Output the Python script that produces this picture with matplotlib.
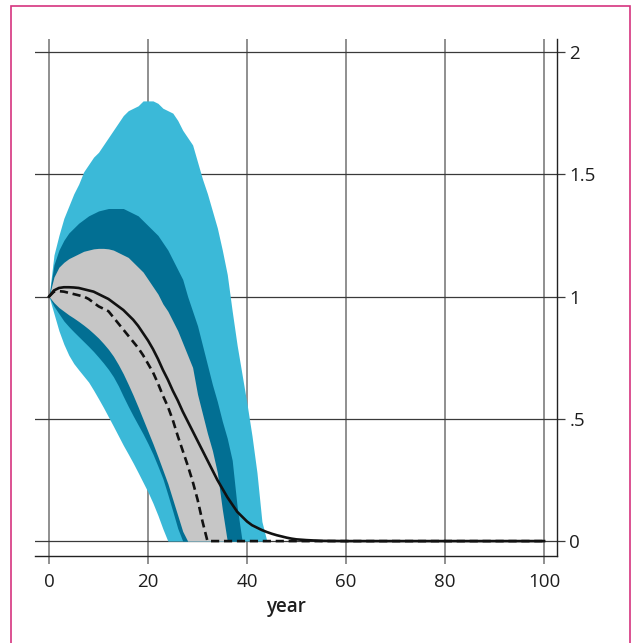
import numpy as np
import matplotlib
matplotlib.use("Agg")
import matplotlib.pyplot as plt
from matplotlib.patches import Rectangle

plt.rcParams['font.family'] = ['Open Sans', 'DejaVu Sans']

# fan chart quantile boundaries, one value per year
years = list(range(0, 46))
outer_hi = [1.00, 1.17, 1.25, 1.32, 1.37, 1.42, 1.46, 1.51, 1.54, 1.57,
            1.59, 1.62, 1.65, 1.68, 1.71, 1.74, 1.76, 1.77, 1.78, 1.80,
            1.80, 1.80, 1.79, 1.77, 1.76, 1.75, 1.72, 1.68, 1.65, 1.62,
            1.55, 1.48, 1.42, 1.35, 1.28, 1.19, 1.09, 0.94, 0.80, 0.68,
            0.56, 0.43, 0.28, 0.08, 0.00, 0.00]
mid_hi = [1.00, 1.13, 1.19, 1.23, 1.26, 1.28, 1.30, 1.315, 1.33, 1.34,
          1.35, 1.355, 1.36, 1.36, 1.36, 1.36, 1.35, 1.34, 1.33, 1.31,
          1.29, 1.27, 1.25, 1.22, 1.19, 1.15, 1.11, 1.07, 1.00, 0.94,
          0.88, 0.80, 0.72, 0.64, 0.57, 0.49, 0.42, 0.33, 0.14, 0.00,
          0.00, 0.00, 0.00, 0.00, 0.00, 0.00]
inner_hi = [1.00, 1.08, 1.12, 1.14, 1.155, 1.165, 1.175, 1.185, 1.19, 1.195,
            1.197, 1.197, 1.195, 1.19, 1.18, 1.17, 1.16, 1.14, 1.12, 1.10,
            1.07, 1.04, 1.01, 0.97, 0.94, 0.90, 0.86, 0.81, 0.76, 0.71,
            0.60, 0.52, 0.44, 0.37, 0.28, 0.13, 0.00, 0.00, 0.00, 0.00,
            0.00, 0.00, 0.00, 0.00, 0.00, 0.00]
inner_lo = [1.00, 0.975, 0.955, 0.94, 0.925, 0.912, 0.898, 0.883, 0.867, 0.849,
            0.83, 0.808, 0.784, 0.756, 0.722, 0.684, 0.641, 0.596, 0.548, 0.498,
            0.448, 0.398, 0.345, 0.29, 0.235, 0.17, 0.105, 0.04, 0.00, 0.00,
            0.00, 0.00, 0.00, 0.00, 0.00, 0.00, 0.00, 0.00, 0.00, 0.00,
            0.00, 0.00, 0.00, 0.00, 0.00, 0.00]
mid_lo = [1.00, 0.96, 0.93, 0.90, 0.877, 0.856, 0.836, 0.816, 0.796, 0.775,
          0.752, 0.728, 0.702, 0.672, 0.635, 0.592, 0.551, 0.512, 0.475, 0.438,
          0.398, 0.355, 0.306, 0.255, 0.19, 0.122, 0.052, 0.00, 0.00, 0.00,
          0.00, 0.00, 0.00, 0.00, 0.00, 0.00, 0.00, 0.00, 0.00, 0.00,
          0.00, 0.00, 0.00, 0.00, 0.00, 0.00]
outer_lo = [1.00, 0.93, 0.86, 0.805, 0.76, 0.726, 0.70, 0.675, 0.65, 0.617,
            0.582, 0.546, 0.508, 0.47, 0.431, 0.392, 0.356, 0.319, 0.28, 0.24,
            0.20, 0.155, 0.105, 0.05, 0.00, 0.00, 0.00, 0.00, 0.00, 0.00,
            0.00, 0.00, 0.00, 0.00, 0.00, 0.00, 0.00, 0.00, 0.00, 0.00,
            0.00, 0.00, 0.00, 0.00, 0.00, 0.00]

# median path (solid) and alternative path (dashed)
line_years = list(range(0, 51)) + [52, 55, 60, 100]
median = [1.00, 1.025, 1.035, 1.038, 1.038, 1.037, 1.035, 1.03, 1.025, 1.02,
          1.01, 1.00, 0.99, 0.975, 0.96, 0.945, 0.925, 0.905, 0.88, 0.85,
          0.82, 0.785, 0.745, 0.70, 0.66, 0.615, 0.575, 0.53, 0.49, 0.45,
          0.41, 0.37, 0.33, 0.29, 0.25, 0.215, 0.18, 0.15, 0.12, 0.10,
          0.08, 0.065, 0.055, 0.045, 0.037, 0.03, 0.024, 0.019, 0.014, 0.01,
          0.007, 0.004, 0.001, 0.0, 0.0]
dash_years = list(range(0, 33)) + [100]
dashed = [1.00, 1.02, 1.022, 1.02, 1.015, 1.01, 1.005, 1.00, 0.99, 0.975,
          0.96, 0.95, 0.94, 0.915, 0.89, 0.865, 0.84, 0.815, 0.79, 0.76,
          0.725, 0.69, 0.645, 0.595, 0.55, 0.495, 0.43, 0.37, 0.31, 0.245,
          0.17, 0.08, 0.00, 0.00]

xticks = [0, 20, 40, 60, 80, 100]
yticks = [0, 0.5, 1, 1.5, 2]
ytick_labels = ['0', '.5', '1', '1.5', '2']

light_blue = '#3bb9d8'
dark_blue = '#026f93'
grey = '#c6c6c6'
text_col = '#1e1e1e'

fig = plt.figure(figsize=(6.31, 6.43), dpi=100)
ax = fig.add_axes([0.0555, 0.1353, 0.8272, 0.8040])

ax.fill_between(years, outer_lo, outer_hi, color=light_blue, lw=0, zorder=2)
ax.fill_between(years, mid_lo, mid_hi, color=dark_blue, lw=0, zorder=3)
ax.fill_between(years, inner_lo, inner_hi, color=grey, lw=0, zorder=4)
ax.plot(line_years, median, color='#111111', lw=1.9, zorder=6)
ax.plot(dash_years, dashed, color='#111111', lw=1.9, ls=(0, (3.1, 1.8)), zorder=5)

ax.set_xlim(-2.83, 102.6)
ax.set_ylim(-0.061, 2.053)
ax.set_xticks(xticks)
ax.set_yticks(yticks)
ax.set_yticklabels(ytick_labels)

for x in xticks:
    ax.axvline(x, color='#7d7d7d', lw=1.2, zorder=1)
for y in yticks:
    ax.axhline(y, color='#3a3a3a', lw=0.9, zorder=1)

ax.spines['top'].set_visible(False)
ax.spines['left'].set_visible(False)
for side in ('bottom', 'right'):
    ax.spines[side].set_color('#222222')
    ax.spines[side].set_linewidth(1.0)

ax.yaxis.tick_right()
ax.tick_params(axis='x', direction='out', length=5.5, width=1.2, color='#7d7d7d',
               labelsize=13.5, labelcolor=text_col, pad=6.5)
ax.tick_params(axis='y', direction='out', length=6, width=0.9, color='#3a3a3a',
               labelsize=13.5, labelcolor=text_col, pad=3)

fig.text(0.453, 0.056, 'year', ha='center', va='center', fontsize=13.5,
         color=text_col, fontweight='semibold')

# magenta frame around the figure
fig.patches.append(Rectangle((11 / 631, -0.05), 619 / 631, 1.05 - 5.5 / 643,
                             transform=fig.transFigure, fill=False,
                             edgecolor='#d6337f', lw=1.2, clip_on=False))

fig.savefig('out.png', dpi=100)
